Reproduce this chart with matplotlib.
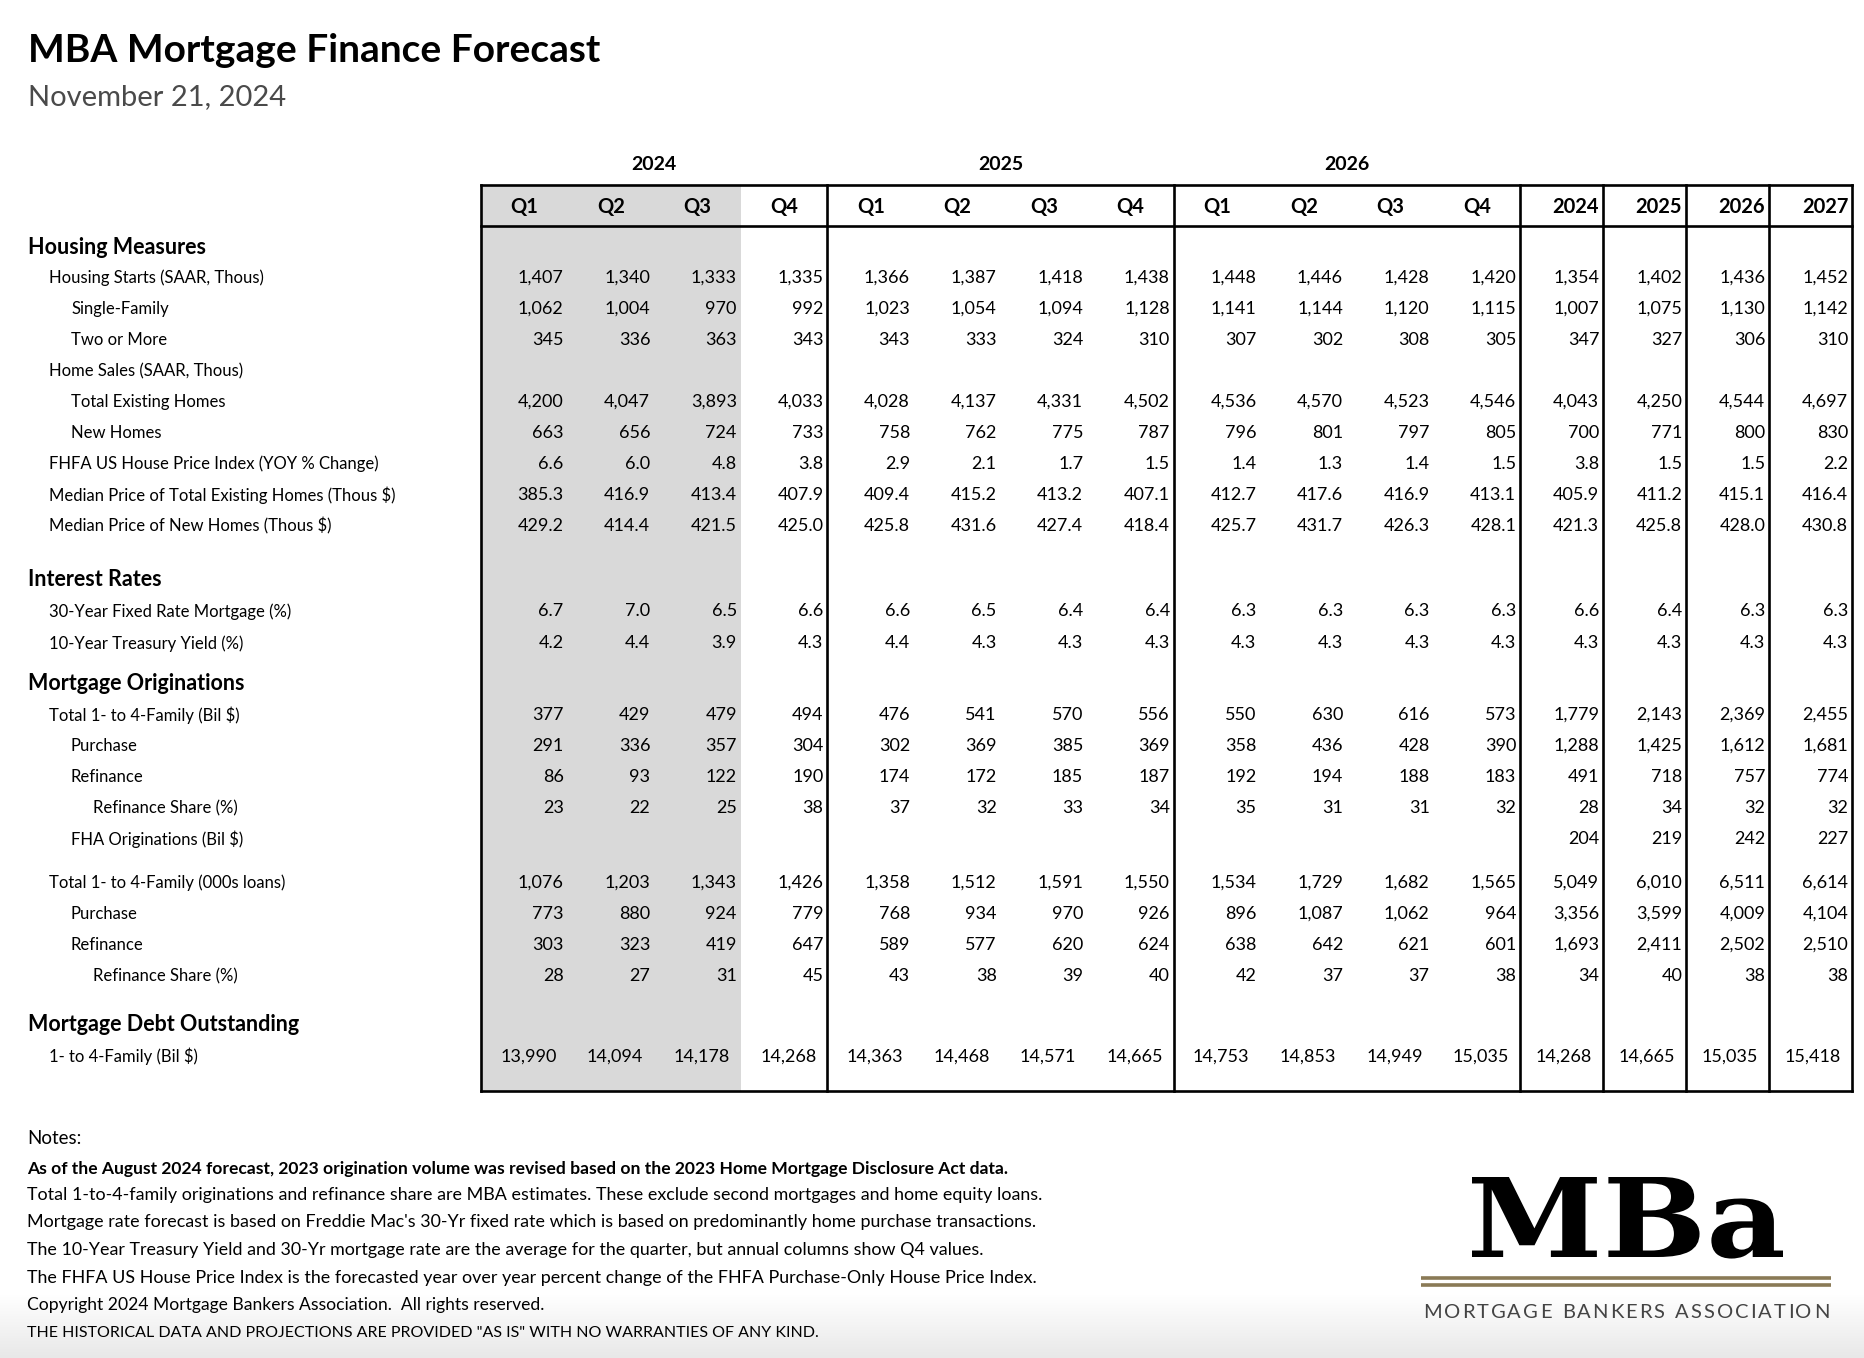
import matplotlib.pyplot as plt
import numpy as np
from matplotlib.textpath import TextPath, TextToPath
from matplotlib.patches import PathPatch, Rectangle
from matplotlib.font_manager import FontProperties
from matplotlib.transforms import Affine2D

# --- data -----------------------------------------------------------------
years = ['2024', '2025', '2026']
quarters = ['Q1', 'Q2', 'Q3', 'Q4']
annual = ['2024', '2025', '2026', '2027']

housing_starts   = [1407, 1340, 1333, 1335, 1366, 1387, 1418, 1438, 1448, 1446, 1428, 1420, 1354, 1402, 1436, 1452]
single_family    = [1062, 1004, 970, 992, 1023, 1054, 1094, 1128, 1141, 1144, 1120, 1115, 1007, 1075, 1130, 1142]
two_or_more      = [345, 336, 363, 343, 343, 333, 324, 310, 307, 302, 308, 305, 347, 327, 306, 310]
existing_homes   = [4200, 4047, 3893, 4033, 4028, 4137, 4331, 4502, 4536, 4570, 4523, 4546, 4043, 4250, 4544, 4697]
new_homes        = [663, 656, 724, 733, 758, 762, 775, 787, 796, 801, 797, 805, 700, 771, 800, 830]
fhfa_hpi         = [6.6, 6.0, 4.8, 3.8, 2.9, 2.1, 1.7, 1.5, 1.4, 1.3, 1.4, 1.5, 3.8, 1.5, 1.5, 2.2]
median_existing  = [385.3, 416.9, 413.4, 407.9, 409.4, 415.2, 413.2, 407.1, 412.7, 417.6, 416.9, 413.1, 405.9, 411.2, 415.1, 416.4]
median_new       = [429.2, 414.4, 421.5, 425.0, 425.8, 431.6, 427.4, 418.4, 425.7, 431.7, 426.3, 428.1, 421.3, 425.8, 428.0, 430.8]
rate_30yr        = [6.7, 7.0, 6.5, 6.6, 6.6, 6.5, 6.4, 6.4, 6.3, 6.3, 6.3, 6.3, 6.6, 6.4, 6.3, 6.3]
treasury_10yr    = [4.2, 4.4, 3.9, 4.3, 4.4, 4.3, 4.3, 4.3, 4.3, 4.3, 4.3, 4.3, 4.3, 4.3, 4.3, 4.3]
orig_total_bil   = [377, 429, 479, 494, 476, 541, 570, 556, 550, 630, 616, 573, 1779, 2143, 2369, 2455]
orig_purch_bil   = [291, 336, 357, 304, 302, 369, 385, 369, 358, 436, 428, 390, 1288, 1425, 1612, 1681]
orig_refi_bil    = [86, 93, 122, 190, 174, 172, 185, 187, 192, 194, 188, 183, 491, 718, 757, 774]
refi_share_bil   = [23, 22, 25, 38, 37, 32, 33, 34, 35, 31, 31, 32, 28, 34, 32, 32]
fha_orig         = [None] * 12 + [204, 219, 242, 227]
orig_total_loans = [1076, 1203, 1343, 1426, 1358, 1512, 1591, 1550, 1534, 1729, 1682, 1565, 5049, 6010, 6511, 6614]
orig_purch_loans = [773, 880, 924, 779, 768, 934, 970, 926, 896, 1087, 1062, 964, 3356, 3599, 4009, 4104]
orig_refi_loans  = [303, 323, 419, 647, 589, 577, 620, 624, 638, 642, 621, 601, 1693, 2411, 2502, 2510]
refi_share_loans = [28, 27, 31, 45, 43, 38, 39, 40, 42, 37, 37, 38, 34, 40, 38, 38]
debt_outstanding = [13990, 14094, 14178, 14268, 14363, 14468, 14571, 14665, 14753, 14853, 14949, 15035, 14268, 14665, 15035, 15418]

# (label, indent level, values, decimals); level 0 = section header
rows = [
    ('Housing Measures', 0, None, 0),
    ('Housing Starts (SAAR, Thous)', 1, housing_starts, 0),
    ('Single-Family', 2, single_family, 0),
    ('Two or More', 2, two_or_more, 0),
    ('Home Sales (SAAR, Thous)', 1, None, 0),
    ('Total Existing Homes', 2, existing_homes, 0),
    ('New Homes', 2, new_homes, 0),
    ('FHFA US House Price Index (YOY % Change)', 1, fhfa_hpi, 1),
    ('Median Price of Total Existing Homes (Thous $)', 1, median_existing, 1),
    ('Median Price of New Homes (Thous $)', 1, median_new, 1),
    ('Interest Rates', 0, None, 0),
    ('30-Year Fixed Rate Mortgage (%)', 1, rate_30yr, 1),
    ('10-Year Treasury Yield (%)', 1, treasury_10yr, 1),
    ('Mortgage Originations', 0, None, 0),
    ('Total 1- to 4-Family (Bil $)', 1, orig_total_bil, 0),
    ('Purchase', 2, orig_purch_bil, 0),
    ('Refinance', 2, orig_refi_bil, 0),
    ('Refinance Share (%)', 3, refi_share_bil, 0),
    ('FHA Originations (Bil $)', 2, fha_orig, 0),
    ('Total 1- to 4-Family (000s loans)', 1, orig_total_loans, 0),
    ('Purchase', 2, orig_purch_loans, 0),
    ('Refinance', 2, orig_refi_loans, 0),
    ('Refinance Share (%)', 3, refi_share_loans, 0),
    ('Mortgage Debt Outstanding', 0, None, 0),
    ('1- to 4-Family (Bil $)', 1, debt_outstanding, 0),
]

notes = [
    'As of the August 2024 forecast, 2023 origination volume was revised based on the 2023 Home Mortgage Disclosure Act data.',
    'Total 1-to-4-family originations and refinance share are MBA estimates. These exclude second mortgages and home equity loans.',
    "Mortgage rate forecast is based on Freddie Mac's 30-Yr fixed rate which is based on predominantly home purchase transactions.",
    'The 10-Year Treasury Yield and 30-Yr mortgage rate are the average for the quarter, but annual columns show Q4 values.',
    'The FHFA US House Price Index is the forecasted year over year percent change of the FHFA Purchase-Only House Price Index.',
    'Copyright 2024 Mortgage Bankers Association.  All rights reserved.',
    'THE HISTORICAL DATA AND PROJECTIONS ARE PROVIDED "AS IS" WITH NO WARRANTIES OF ANY KIND.',
]

# --- layout ---------------------------------------------------------------
FONT = 'Lato'
W, H = 1864, 1358
fig = plt.figure(figsize=(W / 100, H / 100), dpi=100)
ax = fig.add_axes([0, 0, 1, 1])
ax.set_xlim(0, W)
ax.set_ylim(H, 0)
ax.axis('off')

# faint grey fade at the bottom of the page
grad = np.linspace(1.0, 0.91, 64).reshape(-1, 1)
ax.imshow(np.dstack([grad] * 3), extent=[0, W, H, H - 64], aspect='auto', zorder=0)

ax.text(28, 50, 'MBA Mortgage Finance Forecast', fontsize=28, fontweight='bold',
        family=FONT, va='center', ha='left')
ax.text(28, 97, 'November 21, 2024', fontsize=21, family=FONT,
        color='#4a4a4a', va='center', ha='left')

left = 481
qw = 86.6
aw = 83.0
col_edges = [left + qw * i for i in range(13)]
col_edges += [col_edges[-1] + aw * i for i in range(1, 5)]
top, head_bot, bottom = 185, 226, 1091

# grey shaded (actual) quarters
ax.add_patch(Rectangle((col_edges[0], top), col_edges[3] - col_edges[0], bottom - top,
                       facecolor='#d9d9d9', edgecolor='none', zorder=1))

lw = 1.9
ax.plot([col_edges[0], col_edges[-1]], [top, top], color='black', lw=lw, zorder=3)
ax.plot([col_edges[0], col_edges[-1]], [head_bot, head_bot], color='black', lw=lw, zorder=3)
ax.plot([col_edges[0], col_edges[-1]], [bottom, bottom], color='black', lw=lw, zorder=3)
for i in [0, 4, 8, 12, 13, 14, 15, 16]:
    ax.plot([col_edges[i], col_edges[i]], [top, bottom], color='black', lw=lw, zorder=3)

# header labels
for g, yr in enumerate(years):
    ax.text((col_edges[4 * g] + col_edges[4 * g + 4]) / 2, 164, yr, fontsize=14,
            fontweight='bold', family=FONT, ha='center', va='center')
    for q, ql in enumerate(quarters):
        i = 4 * g + q
        ax.text((col_edges[i] + col_edges[i + 1]) / 2, 207, ql, fontsize=14.5,
                fontweight='bold', family=FONT, ha='center', va='center')
for k, yr in enumerate(annual):
    ax.text(col_edges[13 + k] - 4, 207, yr, fontsize=14.5, fontweight='bold',
            family=FONT, ha='right', va='center')

# vertical spacing before each row (pixels)
gaps = [40, 31, 31, 31, 31, 31, 31, 31, 31, 31, 53.5, 32, 32, 40.5, 31, 31, 31, 31, 31,
        44, 31, 31, 31, 48.5, 32]
indent_x = [28, 49, 71, 93]
y = 207
for (label, level, vals, dec), gap in zip(rows, gaps):
    y += gap
    if level == 0:
        ax.text(indent_x[0], y, label, fontsize=15.5, fontweight='bold', family=FONT,
                ha='left', va='center')
        continue
    ax.text(indent_x[level], y, label, fontsize=12, family=FONT, ha='left', va='center')
    if vals is None:
        continue
    pad = 11 if label.startswith('1- to') else 4
    for i, v in enumerate(vals):
        if v is None:
            continue
        ax.text(col_edges[i + 1] - pad, y, f'{v:,.{dec}f}', fontsize=13, family=FONT,
                ha='right', va='center', zorder=4)

# notes
ax.text(27, 1139, 'Notes:', fontsize=13.5, family=FONT, ha='left', va='center')
note_y = [1169, 1195, 1222, 1250, 1278, 1305, 1333]
note_size = [12.6, 12.9, 12.9, 12.9, 12.9, 12.6, 11.5]
for i, (ny, note, fs) in enumerate(zip(note_y, notes, note_size)):
    ax.text(27, ny, note, fontsize=fs, family=FONT, ha='left', va='center',
            fontweight='bold' if i == 0 else 'normal')

# MBA logo
tp = TextPath((0, 0), 'MBa', prop=FontProperties(family='DejaVu Serif', weight='bold'), size=100)
ext = tp.get_extents()
x0, x1, ytop, ybase = 1472, 1783, 1177, 1257
sx = (x1 - x0) / ext.width
sy = (ybase - ytop) / ext.y1
tr = Affine2D().translate(-ext.x0, 0).scale(sx, -sy).translate(x0, ybase)
ax.add_patch(PathPatch(tr.transform_path(tp), facecolor='black', edgecolor='none', zorder=5))
for ly in [1278, 1285]:
    ax.plot([1421, 1831], [ly, ly], color='#8a7a56', lw=2.6, solid_capstyle='butt', zorder=5)

# letter-spaced association name
assoc = 'MORTGAGE BANKERS ASSOCIATION'
aprop = FontProperties(family=FONT, weight='normal', size=14.5)
t2p = TextToPath()
px_per_pt = 100 / 72
widths = []
for ch in assoc:
    w_ch = t2p.get_text_width_height_descent(ch if ch != ' ' else 'n', aprop, ismath=False)[0]
    widths.append((w_ch * 0.55 if ch == ' ' else w_ch) * px_per_pt)
a0, a1 = 1423, 1829
track = (a1 - a0 - sum(widths)) / (len(assoc) - 1)
cx = a0
for ch, w_ch in zip(assoc, widths):
    ax.text(cx, 1313, ch, fontproperties=aprop, color='#444444', ha='left', va='center')
    cx += w_ch + track

fig.savefig('out.png', dpi=100)
